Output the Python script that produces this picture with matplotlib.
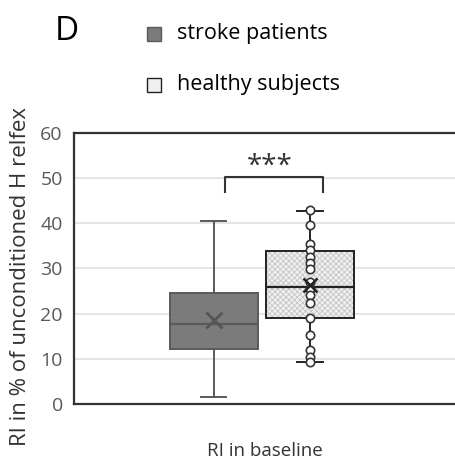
import matplotlib
matplotlib.use('Agg')
import matplotlib.pyplot as plt
from matplotlib.patches import Rectangle, PathPatch

plt.rcParams['font.family'] = ['Open Sans', 'DejaVu Sans']
plt.rcParams['hatch.linewidth'] = 0.6

groups = ['stroke patients', 'healthy subjects']
# box stats
q1 = [12.2, 19.0]
med = [17.6, 26.0]
q3 = [24.6, 33.9]
wlo = [1.5, 9.2]
whi = [40.5, 42.8]
means = [18.6, 26.3]
healthy_pts = [43.0, 39.5, 35.5, 34.0, 32.5, 31.3, 29.8, 27.0, 25.5,
               24.1, 22.3, 19.0, 15.3, 12.0, 10.5, 9.2]
yticks = [0, 10, 20, 30, 40, 50, 60]

fig = plt.figure(figsize=(4.56, 4.62), dpi=100)
ax = fig.add_axes([0.162, 0.1255, 0.838, 0.587])

stats = []
for i in range(2):
    stats.append({'med': med[i], 'q1': q1[i], 'q3': q3[i],
                  'whislo': wlo[i], 'whishi': whi[i], 'mean': means[i],
                  'label': groups[i]})

bp = ax.bxp(stats, positions=[1, 2], widths=0.92, patch_artist=True,
            showfliers=False, showmeans=False, capwidths=[0.26, 0.28])

face = ['#7b7b7b', '#f0f0f0']
edge = ['#5a5a5a', '#222222']
hatch_col = '#c4c4c4'
for i, b in enumerate(bp['boxes']):
    b.set_facecolor(face[i])
    b.set_edgecolor(edge[i])
    b.set_linewidth(1.4)
# hatch drawn in light grey, outline drawn again on top in dark
hb = bp['boxes'][1]
hb.set_hatch('xxxxxx')
hb.set_edgecolor(hatch_col)
hb.set_linewidth(0)
ax.add_patch(PathPatch(hb.get_path(), fill=False, edgecolor=edge[1],
                       lw=1.4, zorder=hb.get_zorder() + 0.1))
for i in range(2):
    bp['medians'][i].set_color(edge[i])
    bp['medians'][i].set_linewidth(1.6)
    for ln in bp['whiskers'][2 * i:2 * i + 2] + bp['caps'][2 * i:2 * i + 2]:
        ln.set_color(edge[i])
        ln.set_linewidth(1.4)

# healthy subjects' individual values
ax.plot([2] * len(healthy_pts), healthy_pts, 'o', ms=6, mfc='white',
        mec='#333333', mew=1.2, zorder=4)
ax.plot([1], [means[0]], 'x', ms=11, mew=2, color='#555555', zorder=5)
ax.plot([2], [means[1]], 'x', ms=10, mew=1.8, color='#222222', zorder=5)

# significance bracket
ax.plot([1.12, 1.12, 2.14, 2.14], [47, 50.2, 50.2, 47], color='#333333', lw=1.5)
ax.text(1.58, 49.3, '***', ha='center', va='bottom', fontsize=20,
        color='#333333')

ax.set_xlim(-0.458, 3.52)
ax.set_ylim(0, 60)
ax.set_yticks(yticks)
ax.set_xticks([])
ax.tick_params(axis='y', length=0, labelsize=14, labelcolor='#595959', pad=8)
ax.grid(axis='y', color='#dedede', lw=1.1)
ax.set_axisbelow(True)
for s in ['left', 'top', 'bottom']:
    ax.spines[s].set_color('#333333')
    ax.spines[s].set_linewidth(1.6)
ax.spines['right'].set_visible(False)

ax.set_ylabel('RI in % of unconditioned H relfex', fontsize=16,
              color='#333333')
ax.yaxis.set_label_coords(-0.112, 0.47)
ax.set_xlabel('RI in baseline', fontsize=13.5, color='#333333', labelpad=27)

fig.text(67 / 456, 1 - 32 / 462, 'D', fontsize=24, ha='center', va='center')
fig.patches.append(Rectangle((147 / 456, 1 - 41 / 462), 14 / 456, 14 / 462,
                             transform=fig.transFigure, facecolor=face[0],
                             edgecolor=edge[0], lw=1))
fig.patches.append(Rectangle((147 / 456, 1 - 92 / 462), 14 / 456, 14 / 462,
                             transform=fig.transFigure, facecolor=face[1],
                             edgecolor=edge[1], lw=1))
fig.text(177 / 456, 1 - 33 / 462, groups[0], fontsize=15.5, va='center')
fig.text(177 / 456, 1 - 85 / 462, groups[1], fontsize=15.5, va='center')

fig.savefig('out.png', dpi=100)
